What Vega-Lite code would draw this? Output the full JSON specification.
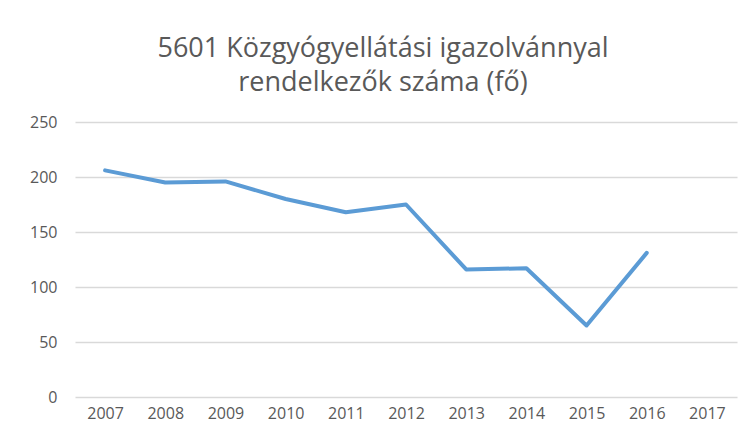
{
  "$schema": "https://vega.github.io/schema/vega-lite/v6.json",
  "width": 662,
  "height": 275,
  "autosize": "none",
  "padding": {"left": 75, "top": 122, "right": 13, "bottom": 29},
  "background": "white",
  "title": {
    "text": ["5601 Közgyógyellátási igazolvánnyal", "rendelkezők  száma (fő)"],
    "anchor": "middle",
    "dx": -23,
    "offset": 17,
    "fontSize": 27,
    "font": "Open Sans",
    "fontWeight": "normal",
    "color": "#595959",
    "lineHeight": 34
  },
  "data": {
    "values": [
      {"year": "2007", "value": 206},
      {"year": "2008", "value": 195},
      {"year": "2009", "value": 196},
      {"year": "2010", "value": 180},
      {"year": "2011", "value": 168},
      {"year": "2012", "value": 175},
      {"year": "2013", "value": 116},
      {"year": "2014", "value": 117},
      {"year": "2015", "value": 65},
      {"year": "2016", "value": 131},
      {"year": "2017", "value": null}
    ]
  },
  "mark": {"type": "line", "color": "#5b9bd5", "strokeWidth": 4, "strokeCap": "round", "strokeJoin": "round"},
  "encoding": {
    "x": {
      "field": "year", "type": "ordinal",
      "scale": {"type": "point", "padding": 0.5},
      "axis": {"title": null, "labelAngle": 0, "domain": false, "ticks": false, "labelPadding": 8, "labelFontSize": 16, "labelFont": "Open Sans", "labelColor": "#595959", "grid": false}
    },
    "y": {
      "field": "value", "type": "quantitative",
      "scale": {"domain": [0, 250]},
      "axis": {"title": null, "values": [0, 50, 100, 150, 200, 250], "domain": false, "ticks": false, "labelPadding": 18, "labelFontSize": 16, "labelFont": "Open Sans", "labelColor": "#595959", "gridColor": "#d9d9d9", "gridWidth": 1.5}
    }
  },
  "config": {"view": {"stroke": null}}
}
